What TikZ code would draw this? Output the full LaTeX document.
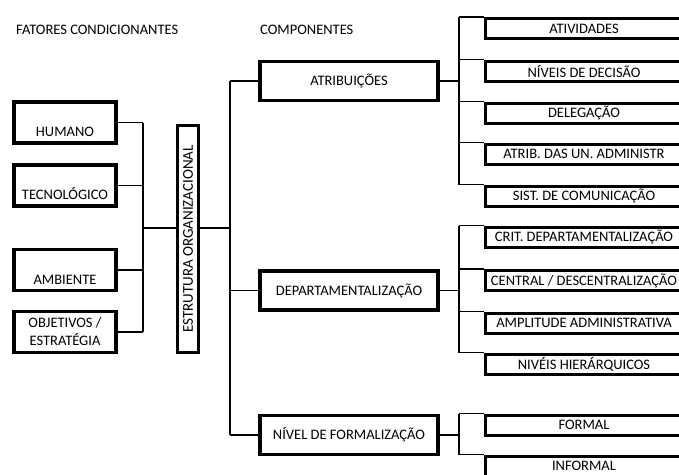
\documentclass[tikz,border=0pt]{standalone}
\usepackage{fontspec}
\usepackage{graphicx}
\setmainfont{Carlito}
\usetikzlibrary{positioning, calc}

\begin{document}
\begin{tikzpicture}[x=1pt, y=-1pt,
  fator/.style={draw, line width=3.5pt, minimum width=102pt, minimum height=41pt,
    inner sep=0pt, align=center, font=\fontsize{14.5}{18}\selectfont},
  low/.style={text height=28pt, text depth=0pt},
  comp/.style={draw, line width=3.5pt, minimum width=178pt, minimum height=39pt,
    inner sep=0pt, font=\fontsize{14.5}{17}\selectfont},
  item/.style={draw, line width=3pt, minimum width=197pt, minimum height=20pt,
    inner sep=0pt, font=\fontsize{14.5}{17}\selectfont},
  head/.style={anchor=west, inner sep=0pt, font=\fontsize{14.5}{17}\selectfont},
  link/.style={line width=1.3pt},
]
  \useasboundingbox (0,0) rectangle (679,474);
  \clip (0,0) rectangle (679,474);

  % titles
  \node[head] (fatores) at (16,30) {FATORES CONDICIONANTES};
  \node[head] (componentes) at (260,30) {COMPONENTES};

  % conditioning factors
  \node[fator, low] (humano) at (65,122.5) {HUMANO};
  \node[fator, low] (tecno) at (65,185.5) {TECNOLÓGICO};
  \node[fator, low] (ambiente) at (65,270) {AMBIENTE};
  \node[fator] (objetivos) at (65,332) {OBJETIVOS /\\ESTRATÉGIA};

  \node[draw, line width=3.5pt, minimum width=21pt, minimum height=227pt,
    inner sep=0pt, font=\fontsize{15}{17}\selectfont] (estrutura) at (188,239)
    {\rotatebox{90}{ESTRUTURA ORGANIZACIONAL}};

  % components
  \node[comp] (atrib) at (349,81) {ATRIBUIÇÕES};
  \node[comp] (depto) at (349,290.5) {DEPARTAMENTALIZAÇÃO};
  \node[comp] (nivel) at (349,435) {NÍVEL DE FORMALIZAÇÃO};

  % items
  \node[item] (ativ) at (584,28.5) {ATIVIDADES};
  \node[item] (decisao) at (584,71) {NÍVEIS DE DECISÃO};
  \node[item] (delegacao) at (584,113) {DELEGAÇÃO};
  \node[item] (unadm) at (584,154) {ATRIB. DAS UN. ADMINISTR};
  \node[item] (sistcom) at (584,196) {SIST. DE COMUNICAÇÃO};
  \node[item] (crit) at (584,237) {CRIT. DEPARTAMENTALIZAÇÃO};
  \node[item] (central) at (584,280.5) {CENTRAL / DESCENTRALIZAÇÃO};
  \node[item] (amplitude) at (584,323) {AMPLITUDE ADMINISTRATIVA};
  \node[item] (hierarq) at (584,364) {NIVÉIS HIERÁRQUICOS};
  \node[item] (formal) at (584,425) {FORMAL};
  \node[item] (informal) at (584,466) {INFORMAL};

  % left bus
  \coordinate (busL) at (143,228);
  \foreach \n in {humano,tecno,ambiente,objetivos}
    \draw[link] (\n.east) -- (\n.east -| busL);
  \draw[link] (humano.east -| busL) -- (objetivos.east -| busL);
  \draw[link] (busL) -- (busL -| estrutura.west);

  % middle bus
  \coordinate (busM) at (230,228);
  \draw[link] (busM -| estrutura.east) -- (busM);
  \draw[link] (atrib.west -| busM) -- (nivel.west -| busM);
  \foreach \n in {atrib,depto,nivel}
    \draw[link] (\n.west -| busM) -- (\n.west);

  % right buses
  \coordinate (busR) at (459,0);
  \foreach \n in {atrib,depto,nivel}
    \draw[link] (\n.east) -- (\n.east -| busR);
  \draw[link] (ativ.north west -| busR) -- (sistcom.north west -| busR);
  \draw[link] (crit.north west -| busR) -- (hierarq.north west -| busR);
  \draw[link] (formal.north west -| busR) -- (informal.north west -| busR);
  \foreach \n in {ativ,decisao,delegacao,unadm,sistcom,crit,central,amplitude,hierarq,formal,informal}
    \draw[link] (\n.north west -| busR) -- (\n.north west);
\end{tikzpicture}
\end{document}
